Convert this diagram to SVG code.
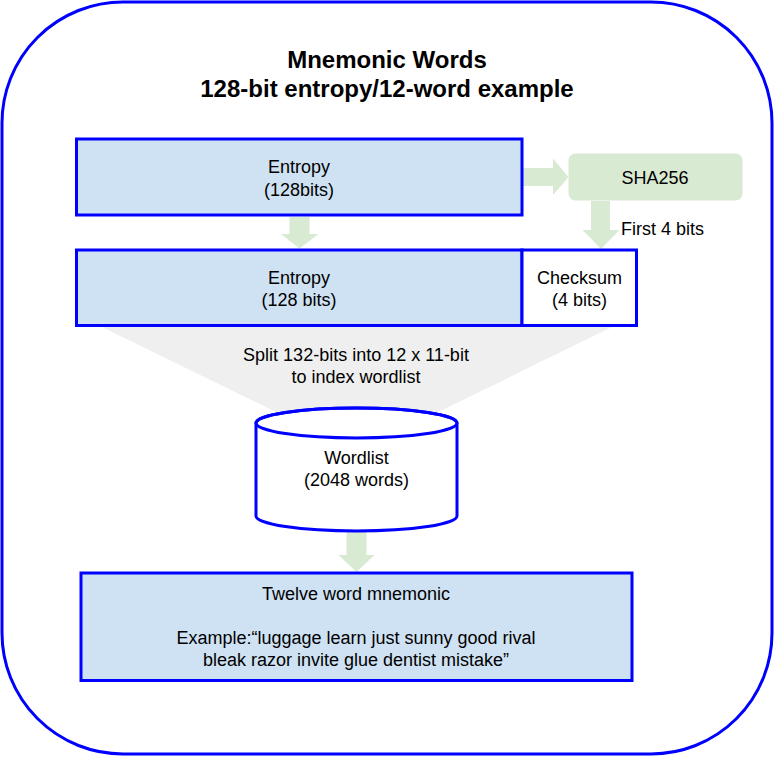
<svg xmlns="http://www.w3.org/2000/svg" width="774" height="758" viewBox="0 0 774 758">
<style>
.box{fill:#cfe2f3;stroke:#0000ff;stroke-width:3}
.wbox{fill:#ffffff;stroke:#0000ff;stroke-width:3}
.arr{fill:#d9ead3;stroke:none}
text{font-family:"Liberation Sans",Arial,sans-serif;font-size:18px;fill:#000000;text-anchor:middle}
.title{font-weight:bold;font-size:24px}
</style>
<rect x="2" y="2" width="770" height="752" rx="121" ry="121" fill="#ffffff" stroke="#0000ff" stroke-width="3"/>
<g id="title">
<text class="title" x="387" y="68">Mnemonic Words</text>
<text class="title" x="387" y="97">128-bit entropy/12-word example</text>
</g>
<g id="funnel">
<polygon points="102,327 612,327 430,416 284,416" fill="#efefef"/>
<text x="356" y="361">Split 132-bits into 12 x 11-bit</text>
<text x="356" y="383">to index wordlist</text>
</g>
<g id="connectors">
<polygon class="arr" points="523,168 553,168 553,158.5 568.5,177 553,195 553,186 523,186"/>
<polygon class="arr" points="289.5,217 309.5,217 309.5,234 318.5,234 299.5,248.5 281,234 289.5,234"/>
<polygon class="arr" points="591,201 610,201 610,230 619.5,230 601,249 582.5,230 591,230"/>
<text x="621" y="235" style="text-anchor:start">First 4 bits</text>
<polygon class="arr" points="346.5,532 366.5,532 366.5,555 374.5,555 356.5,572 338.5,555 346.5,555"/>
</g>
<g id="entropy1">
<rect class="box" x="76.5" y="139" width="445.5" height="76"/>
<text x="299" y="173">Entropy</text>
<text x="299" y="195.5">(128bits)</text>
</g>
<g id="sha256">
<rect x="568.5" y="153.5" width="174" height="47" rx="7" ry="7" fill="#d9ead3"/>
<text x="655" y="184">SHA256</text>
</g>
<g id="entropy2">
<rect class="box" x="76.5" y="250" width="445.5" height="75.5"/>
<text x="299" y="284">Entropy</text>
<text x="299" y="306">(128 bits)</text>
</g>
<g id="checksum">
<rect class="wbox" x="522" y="250" width="114.5" height="75.5"/>
<text x="579.5" y="283.5">Checksum</text>
<text x="579.5" y="306">(4 bits)</text>
</g>
<g id="wordlist">
<path class="wbox" d="M256,423 L256,516 A100.5,15 0 0 0 457,516 L457,423 A100.5,15 0 0 0 256,423 Z"/>
<ellipse cx="356.5" cy="423" rx="100.5" ry="15" fill="none" stroke="#0000ff" stroke-width="3"/>
<text x="356.5" y="464">Wordlist</text>
<text x="356.5" y="486">(2048 words)</text>
</g>
<g id="mnemonic">
<rect class="box" x="81" y="573" width="551" height="107.5"/>
<text x="356" y="600">Twelve word mnemonic</text>
<text x="356" y="644">Example:“luggage learn just sunny good rival</text>
<text x="356" y="666">bleak razor invite glue dentist mistake”</text>
</g>
</svg>
